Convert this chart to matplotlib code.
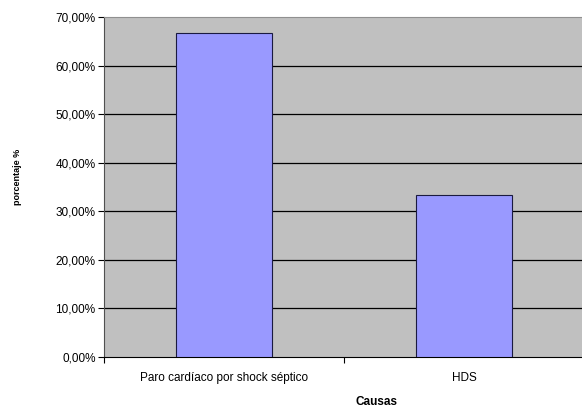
import matplotlib.pyplot as plt
import numpy as np
from matplotlib.ticker import FuncFormatter

# Causas de muerte y su porcentaje
causas = ['Paro cardíaco por shock séptico', 'HDS']
porcentajes = [66.67, 33.33]
y_ticks = [0, 10, 20, 30, 40, 50, 60, 70]

plt.rcParams['font.family'] = ['Liberation Sans', 'DejaVu Sans']

fig = plt.figure(figsize=(5.82, 4.09), dpi=100)
fig.patch.set_facecolor('white')
ax = fig.add_axes([104 / 582, 52 / 409, 480 / 582, 340 / 409])
ax.set_facecolor('#C0C0C0')

x = np.arange(len(causas))
ax.bar(x, porcentajes, width=0.4, color='#9999FF', edgecolor='#1a1a40', linewidth=0.8, zorder=3)

ax.set_xlim(-0.5, len(causas) - 0.5)
ax.set_ylim(0, 70)
ax.set_yticks(y_ticks)
ax.yaxis.set_major_formatter(FuncFormatter(lambda v, p: ('%.2f%%' % v).replace('.', ',')))

# Líneas de división (sin la del borde superior)
for v in y_ticks[1:-1]:
    ax.axhline(v, color='black', linewidth=0.9, zorder=1)

# Marcas del eje x entre categorías, etiquetas centradas
ax.set_xticks([-0.5, 0.5, 1.5])
ax.set_xticklabels([])
ax.set_xticks(x, minor=True)
ax.set_xticklabels(causas, minor=True)
ax.tick_params(axis='x', which='minor', length=0, pad=11, labelsize=8.5)
ax.tick_params(axis='x', which='major', length=4, direction='out', width=0.8)
ax.tick_params(axis='y', length=4, direction='out', width=0.8, labelsize=8.5, pad=2)

ax.spines['right'].set_visible(False)
ax.spines['top'].set_color('#909090')
ax.spines['left'].set_color('#505050')
ax.spines['bottom'].set_color('black')

fig.text(377 / 582, 1 - 402 / 409, 'Causas', ha='center', va='center', fontsize=8.5, fontweight='bold')
fig.text(18 / 582, 1 - 177 / 409, 'porcentaje %', ha='center', va='center', rotation=90,
         fontsize=6.5, fontweight='bold')

fig.savefig('out.png', dpi=100)
